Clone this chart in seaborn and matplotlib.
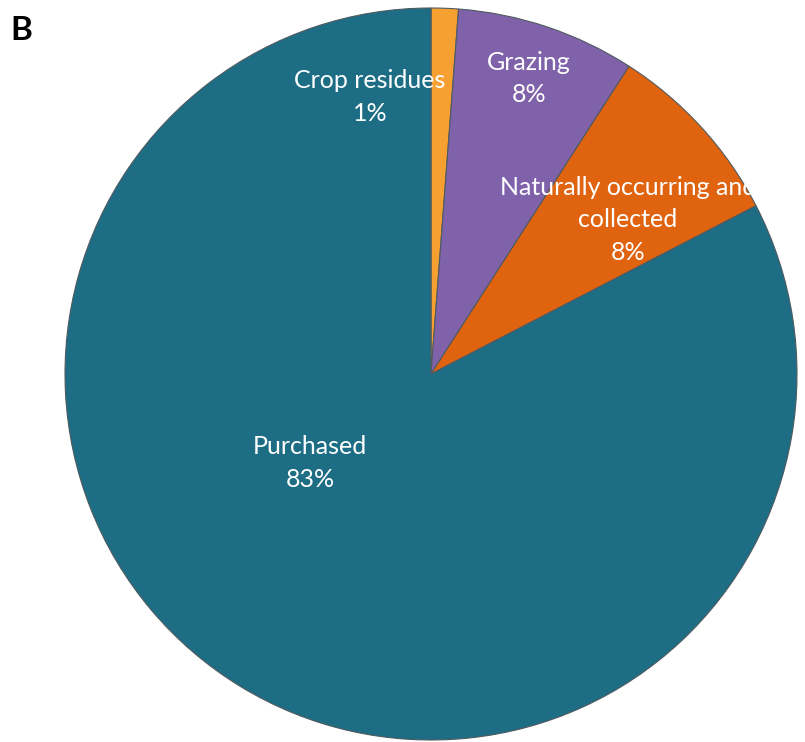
import matplotlib
matplotlib.use("Agg")
import matplotlib.pyplot as plt
import seaborn as sns

# Feed source shares (%), clockwise from 12 o'clock
sources = ["Crop residues", "Grazing", "Naturally occurring and\ncollected", "Purchased"]
shares = [1.2, 7.9, 8.3, 82.6]
shown_pct = ["1%", "8%", "8%", "83%"]

colors = ["#f5a030", "#8062ab", "#e0630f", "#1d6d84"]
# label centres in pie data units (radius = 1)
label_xy = [(-0.167, 0.757), (0.268, 0.808), (0.538, 0.421), (-0.331, -0.243)]

sns.set_theme(style="white")
plt.rcParams["font.family"] = ["Lato", "DejaVu Sans"]

fig = plt.figure(figsize=(8.05, 7.42), dpi=100)
cx, cy, r = 431, 368, 366  # pixels, y from bottom
ax = fig.add_axes([(cx - r) / 805, (cy - r) / 742, 2 * r / 805, 2 * r / 742])

ax.pie(shares, colors=colors, startangle=90, counterclock=False, radius=1,
       wedgeprops=dict(edgecolor="#4f5a60", linewidth=0.8))
ax.set_xlim(-1.0, 1.0)
ax.set_ylim(-1.0, 1.0)
ax.axis("off")

clip_rect = plt.Rectangle((-2, -2), 2 + (752 - cx) / r, 4, transform=ax.transData,
                          facecolor="none", edgecolor="none")
for name, pct, (x, y) in zip(sources, shown_pct, label_xy):
    t = ax.text(x, y, f"{name}\n{pct}", ha="center", va="center", color="white",
                fontsize=18, linespacing=1.5)
    t.set_clip_on(True)
    t.set_clip_path(clip_rect)

fig.text(21 / 805, 1 - 30 / 742, "B", fontsize=24, fontweight="bold",
         ha="center", va="center", color="black")

fig.savefig("out.png", dpi=100)
